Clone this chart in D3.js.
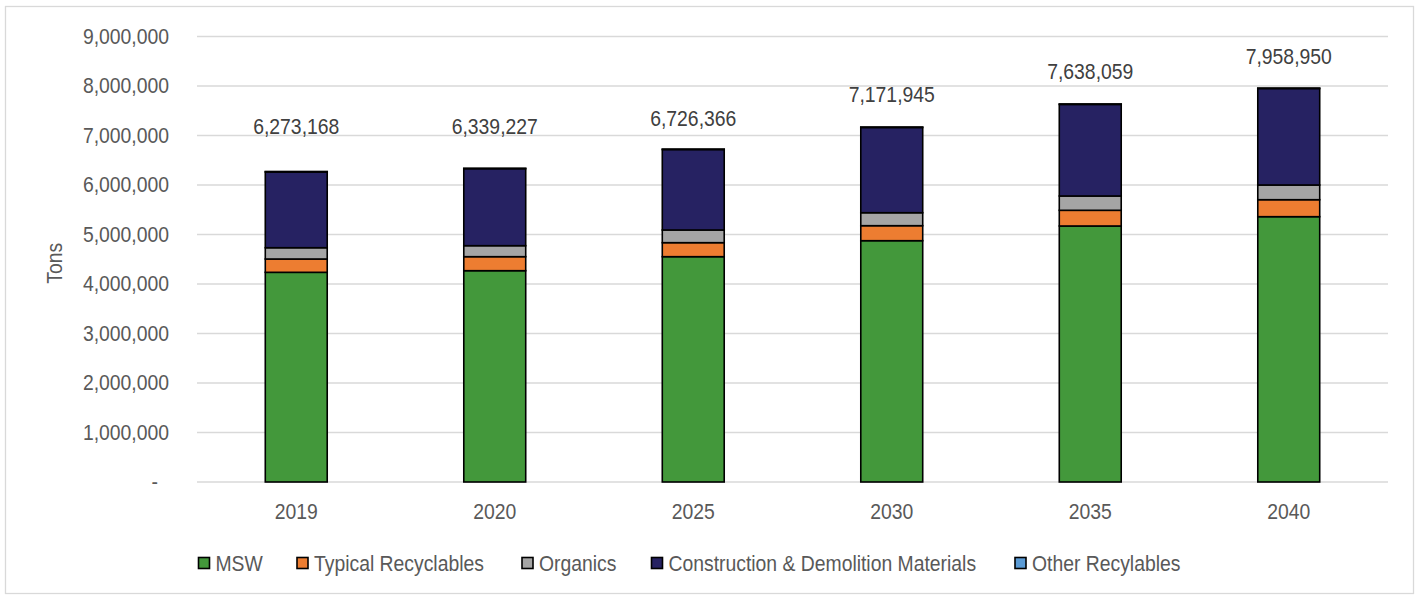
<!DOCTYPE html>
<html>
<head>
<meta charset="utf-8">
<script src="https://cdn.jsdelivr.net/npm/d3@7"></script>
<style>
  html, body { margin: 0; padding: 0; background: #fff; }
  svg { display: block; }
  text { font-family: "Liberation Sans", Arial, sans-serif; }
</style>
</head>
<body>
<svg id="chart" width="1420" height="595"></svg>
<script>
// ---- Data ----
const years = ["2019", "2020", "2025", "2030", "2035", "2040"];
const seriesNames = ["MSW", "Typical Recyclables", "Organics", "Construction & Demolition Materials", "Other Recylables"];
const msw = [4236000, 4269000, 4552000, 4875000, 5172000, 5360000];
const typicalRecyclables = [269000, 283000, 283000, 303000, 317000, 343000];
const organics = [228000, 222000, 256000, 262000, 289000, 297000];
const constructionDemolition = [1530168, 1555227, 1625366, 1721945, 1850059, 1948950];
const otherRecyclables = [10000, 10000, 10000, 10000, 10000, 10000];
const totals = [6273168, 6339227, 6726366, 7171945, 7638059, 7958950];
const labelAt = [7190000, 7190000, 7350000, 7820000, 8290000, 8590000];
const yTicks = [0, 1000000, 2000000, 3000000, 4000000, 5000000, 6000000, 7000000, 8000000, 9000000];
const colors = ["#43983b", "#ed7d31", "#a5a5a5", "#262262", "#5b9bd5"];

// ---- Layout ----
const svg = d3.select("#chart");
const plot = { left: 197, right: 1388, top: 36.5, bottom: 482 };
const FS = "21.5px";
const SQUEEZE = 0.9;
function narrow(sel) {
  sel.each(function () {
    const w = this.getComputedTextLength();
    d3.select(this).attr("textLength", w * SQUEEZE).attr("lengthAdjust", "spacingAndGlyphs");
  });
}

// chart border
svg.append("rect")
  .attr("x", 5.5).attr("y", 6.5).attr("width", 1408).attr("height", 587)
  .attr("fill", "#fff").attr("stroke", "#d9d9d9").attr("stroke-width", 1.3);

const x = d3.scaleBand().domain(years).range([plot.left, plot.right]).paddingInner(0.688).paddingOuter(0.344);
const y = d3.scaleLinear().domain([0, 9000000]).range([plot.bottom, plot.top]);

// gridlines
svg.append("g").selectAll("line").data(yTicks).join("line")
  .attr("x1", plot.left).attr("x2", plot.right)
  .attr("y1", d => y(d)).attr("y2", d => y(d))
  .attr("stroke", "#d9d9d9").attr("stroke-width", 1.4);

// y axis labels
const fmt = d3.format(",");
const yAxis = d3.axisLeft(y).tickValues(yTicks).tickSize(0).tickPadding(28)
  .tickFormat(d => d === 0 ? "-" : fmt(d));
const gy = svg.append("g").attr("transform", `translate(${plot.left},0)`).call(yAxis);
gy.select(".domain").remove();
gy.selectAll("text")
  .attr("font-size", FS).attr("fill", "#595959")
  .attr("font-family", "Liberation Sans, Arial, sans-serif")
  .attr("dx", d => d === 0 ? -11 : 0)
  .call(narrow);

// y title
svg.append("text")
  .attr("transform", `translate(62,${(plot.top + plot.bottom) / 2 + 4}) rotate(-90)`)
  .attr("text-anchor", "middle")
  .attr("font-size", FS).attr("fill", "#595959")
  .text("Tons")
  .call(narrow);

// x axis labels
const xAxis = d3.axisBottom(x).tickSize(0).tickPadding(22);
const gx = svg.append("g").attr("transform", `translate(0,${plot.bottom})`).call(xAxis);
gx.select(".domain").remove();
gx.selectAll("text").attr("font-size", FS).attr("fill", "#595959")
  .attr("font-family", "Liberation Sans, Arial, sans-serif")
  .call(narrow);

// stacked bars
const rows = years.map((yr, i) => ({
  year: yr,
  "MSW": msw[i],
  "Typical Recyclables": typicalRecyclables[i],
  "Organics": organics[i],
  "Construction & Demolition Materials": constructionDemolition[i],
  "Other Recylables": otherRecyclables[i]
}));
const stack = d3.stack().keys(seriesNames)(rows);

svg.append("g").selectAll("g").data(stack).join("g")
  .attr("fill", (d, i) => colors[i])
  .selectAll("rect").data(d => d).join("rect")
  .attr("x", d => x(d.data.year))
  .attr("width", x.bandwidth())
  .attr("y", d => y(d[1]))
  .attr("height", d => y(d[0]) - y(d[1]))
  .attr("stroke", "#000").attr("stroke-width", 1.6);

// total labels
svg.append("g").selectAll("text").data(years).join("text")
  .attr("x", d => x(d) + x.bandwidth() / 2)
  .attr("y", (d, i) => y(labelAt[i]))
  .attr("dy", "0.35em")
  .attr("text-anchor", "middle")
  .attr("font-size", FS).attr("fill", "#404040")
  .text((d, i) => fmt(totals[i]))
  .call(narrow);

// legend
const legendX = [198.5, 297, 522, 651.5, 1015];
const lg = svg.append("g").selectAll("g").data(seriesNames).join("g")
  .attr("transform", (d, i) => `translate(${legendX[i]},563)`);
lg.append("rect")
  .attr("x", 0).attr("y", -5.5).attr("width", 11).attr("height", 11)
  .attr("fill", (d, i) => colors[i]).attr("stroke", "#000").attr("stroke-width", 1.6);
lg.append("text")
  .attr("x", 17).attr("y", 0).attr("dy", "0.35em")
  .attr("font-size", FS).attr("fill", "#595959")
  .text(d => d)
  .call(narrow);
</script>
</body>
</html>
